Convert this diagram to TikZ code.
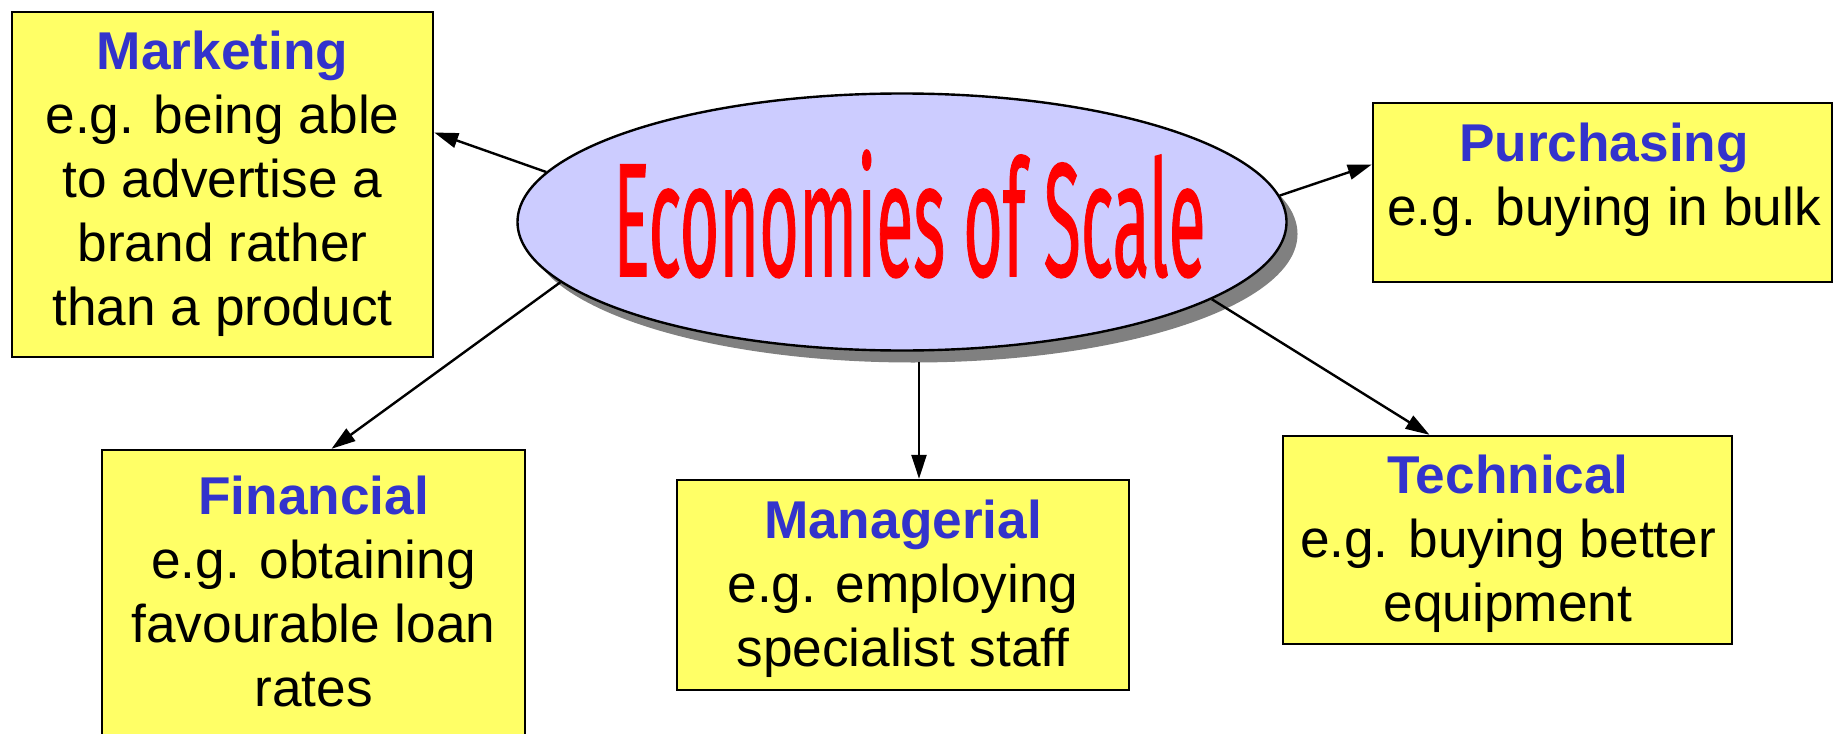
\documentclass[tikz,border=0pt]{standalone}
\usepackage{fontspec}
\setmainfont{Liberation Sans}
\newfontfamily\titlefont[FakeBold=1]{Fira Sans}
\usetikzlibrary{shapes.geometric,shadows,arrows.meta}
\definecolor{boxyellow}{HTML}{FFFF66}
\definecolor{ovalfill}{HTML}{CCCCFF}
\definecolor{headblue}{HTML}{3333CC}
\definecolor{shadowgray}{HTML}{808080}
\newcommand{\hd}[1]{{\bfseries\color{headblue}#1}}
\begin{document}
\begin{tikzpicture}[x=0.5pt,y=-0.5pt,
  topicbox/.style={rectangle,draw=black,line width=1.2pt,fill=boxyellow,inner sep=0pt},
  topictext/.style={align=center,inner sep=0pt,font=\fontsize{26.6}{32}\selectfont},
  link/.style={line width=1.2pt,-{Triangle[length=12pt,width=7.5pt]}}]
\useasboundingbox (0,0) rectangle (1834,733);
\clip (0,0) rectangle (1834,733);

% central oval with its drop shadow
\node[ellipse,draw=black,line width=1.2pt,fill=ovalfill,inner sep=0pt,
      minimum width=384.5pt,minimum height=128.5pt,
      drop shadow={shadow xshift=5.5pt,shadow yshift=-6pt,fill=shadowgray,opacity=1}]
  (ell) at (902,222) {};
\node[anchor=base,inner sep=0pt,text=red] (title) at (909.5,276)
  {\resizebox{296pt}{63pt}{\titlefont Economies of Scale}};

% the five kinds of economies
\node[topicbox,minimum width=210.5pt,minimum height=172.5pt] (mkt) at (222.5,184.5) {};
\node[topictext] (mkttxt) at (222.5,184)
  {\hd{Marketing}\\e.g. being able\\to advertise a\\brand rather\\than a product};

\node[topicbox,minimum width=229.5pt,minimum height=89.5pt] (pur) at (1602.5,192.5) {};
\node[topictext] (purtxt) at (1604,179.5)
  {\hd{Purchasing}\\e.g. buying in bulk};

\node[topicbox,minimum width=211.5pt,minimum height=160pt] (fin) at (313.5,610) {};
\node[topictext] (fintxt) at (313.5,591)
  {\hd{Financial}\\e.g. obtaining\\favourable loan\\rates};

\node[topicbox,minimum width=226pt,minimum height=105pt] (mgr) at (903,585) {};
\node[topictext] (mgrtxt) at (903,589)
  {\hd{Managerial}\\e.g. employing\\specialist staff};

\node[topicbox,minimum width=224.5pt,minimum height=104pt] (tec) at (1507.5,540) {};
\node[topictext] (tectxt) at (1508,543.5)
  {\hd{Technical}\\e.g. buying better\\equipment};

% connectors from the oval
\draw[link] (ell.172.6) -- ([yshift=26pt]mkt.east);
\draw[link] (ell.4.7) -- ([yshift=14pt]pur.west);
\draw[link] (ell.190) -- ([xshift=9pt]fin.north);
\draw[link] ([xshift=8.5pt,yshift=-5pt]ell.south) -- ([xshift=8pt]mgr.north);
\draw[link] (ell.346.5) -- ([xshift=-39pt]tec.north);
\end{tikzpicture}
\end{document}
